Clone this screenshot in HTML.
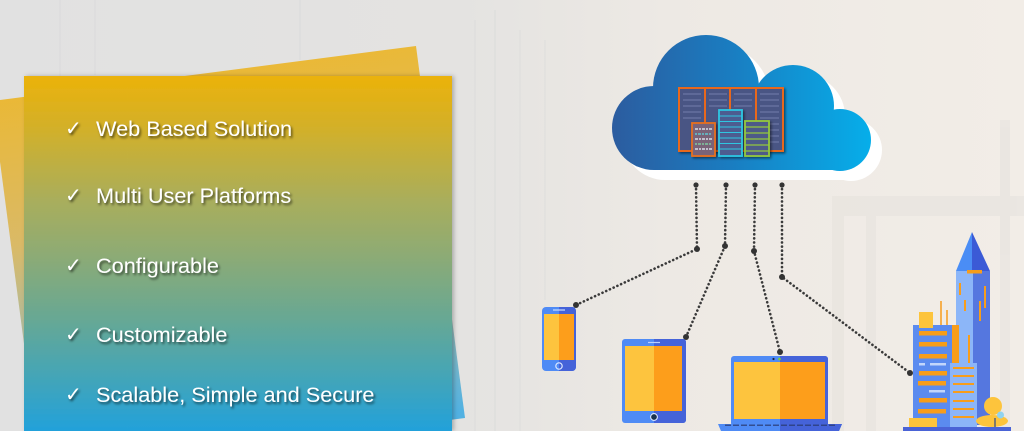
<!DOCTYPE html>
<html><head><meta charset="utf-8"><style>
html,body{margin:0;padding:0;width:1024px;height:431px;overflow:hidden;background:#e8e6e3;}
svg{display:block;position:absolute;left:0;top:0}
</style></head><body>
<svg width="1024" height="431" viewBox="0 0 1024 431" xmlns="http://www.w3.org/2000/svg">
<defs>
<linearGradient id="bg" x1="0" y1="0" x2="1" y2="0">
<stop offset="0" stop-color="#e1e1e1"/><stop offset="0.45" stop-color="#e4e3e1"/><stop offset="0.65" stop-color="#ede9e4"/><stop offset="1" stop-color="#f2ede7"/>
</linearGradient>
<linearGradient id="front" x1="0" y1="76" x2="0" y2="431" gradientUnits="userSpaceOnUse">
<stop offset="0" stop-color="#ebb20a"/><stop offset="0.15" stop-color="#d2b02a"/><stop offset="0.35" stop-color="#a9ae5c"/><stop offset="0.5" stop-color="#8eab74"/><stop offset="0.68" stop-color="#68a893"/><stop offset="0.85" stop-color="#43a5b8"/><stop offset="1" stop-color="#22a1da"/>
</linearGradient>
<linearGradient id="back" x1="200" y1="70" x2="250" y2="440" gradientUnits="userSpaceOnUse">
<stop offset="0" stop-color="#ebb527"/><stop offset="0.4" stop-color="#d9b65c"/><stop offset="0.7" stop-color="#9eb8a8"/><stop offset="1" stop-color="#45ade2"/>
</linearGradient>
<linearGradient id="cloud" x1="612" y1="0" x2="871" y2="0" gradientUnits="userSpaceOnUse">
<stop offset="0" stop-color="#2c5c9f"/><stop offset="0.45" stop-color="#1a7cc0"/><stop offset="1" stop-color="#06aeea"/>
</linearGradient>
<filter id="ts" x="-10%" y="-30%" width="120%" height="160%">
<feDropShadow dx="1.5" dy="2" stdDeviation="1.4" flood-color="#000" flood-opacity="0.6"/>
</filter>
<filter id="ps" x="-10%" y="-10%" width="120%" height="120%">
<feDropShadow dx="2" dy="0" stdDeviation="2" flood-color="#000" flood-opacity="0.25"/>
</filter>
<filter id="ss" x="-20%" y="-20%" width="140%" height="140%">
<feDropShadow dx="1.5" dy="1.5" stdDeviation="1.2" flood-color="#000" flood-opacity="0.5"/>
</filter>
<g id="cloudshape">
<circle cx="654" cy="128" r="42"/>
<circle cx="706" cy="88" r="53"/>
<circle cx="793" cy="106" r="41"/>
<circle cx="840" cy="140" r="31"/>
<rect x="654" y="110" width="186" height="60"/>
</g>
</defs>

<!-- background -->
<rect width="1024" height="431" fill="url(#bg)"/>
<g opacity="0.15" stroke="#c8ccd2" stroke-width="2">
<line x1="60" y1="0" x2="60" y2="80"/><line x1="95" y1="0" x2="95" y2="75"/><line x1="300" y1="0" x2="300" y2="60"/>
<line x1="475" y1="20" x2="475" y2="431"/><line x1="495" y1="10" x2="495" y2="431"/><line x1="520" y1="30" x2="520" y2="431"/><line x1="545" y1="40" x2="545" y2="300"/>
</g>
<g fill="#e8e4df" opacity="0.7">
<rect x="832" y="196" width="192" height="20"/>
<rect x="832" y="216" width="12" height="215"/>
<rect x="866" y="216" width="10" height="215"/>
<rect x="1000" y="120" width="10" height="311"/>
</g>

<!-- back panel -->
<polygon points="-8,101 416,46 465,418 365,431 35.5,431" fill="url(#back)" opacity="0.92"/>
<!-- front panel -->
<rect x="24" y="76" width="428" height="355" fill="url(#front)" filter="url(#ps)"/>

<!-- text -->
<g font-family="'Liberation Sans','DejaVu Sans',sans-serif" fill="#ffffff" filter="url(#ts)">
<g font-family="'DejaVu Sans',sans-serif" font-size="20" font-weight="bold">
<text x="65" y="135">✓</text>
<text x="65" y="202">✓</text>
<text x="65" y="272">✓</text>
<text x="65" y="341">✓</text>
<text x="65" y="401">✓</text>
</g>
<g font-size="21.7">
<text x="96" y="136">Web Based Solution</text>
<text x="96" y="203">Multi User Platforms</text>
<text x="96" y="273">Configurable</text>
<text x="96" y="342">Customizable</text>
<text x="96" y="402">Scalable, Simple and Secure</text>
</g>
</g>

<!-- cloud -->
<use href="#cloudshape" fill="#ffffff" transform="translate(11,10)"/>
<use href="#cloudshape" fill="url(#cloud)"/>

<!-- servers -->
<g filter="url(#ss)">
<rect x="679" y="88" width="104" height="63" fill="#4a5484" stroke="#e8681f" stroke-width="2"/>
<g stroke="#e8681f" stroke-width="2"><line x1="705" y1="88" x2="705" y2="151"/><line x1="730" y1="88" x2="730" y2="151"/><line x1="756" y1="88" x2="756" y2="151"/></g>
<g stroke="#6b76a4" stroke-width="1.2">
<line x1="683" y1="94" x2="701" y2="94"/><line x1="683" y1="100" x2="701" y2="100"/><line x1="683" y1="106" x2="701" y2="106"/><line x1="683" y1="112" x2="701" y2="112"/><line x1="683" y1="118" x2="701" y2="118"/>
<line x1="709" y1="94" x2="727" y2="94"/><line x1="709" y1="100" x2="727" y2="100"/><line x1="709" y1="106" x2="727" y2="106"/>
<line x1="734" y1="94" x2="752" y2="94"/><line x1="734" y1="100" x2="752" y2="100"/><line x1="734" y1="106" x2="752" y2="106"/>
<line x1="760" y1="94" x2="779" y2="94"/><line x1="760" y1="100" x2="779" y2="100"/><line x1="760" y1="106" x2="779" y2="106"/><line x1="760" y1="112" x2="779" y2="112"/><line x1="760" y1="118" x2="779" y2="118"/><line x1="760" y1="124" x2="779" y2="124"/><line x1="760" y1="130" x2="779" y2="130"/><line x1="760" y1="136" x2="779" y2="136"/><line x1="760" y1="142" x2="779" y2="142"/>
</g>
</g>
<g filter="url(#ss)">
<rect x="692" y="123" width="23" height="33" fill="#7a6478" stroke="#e8701f" stroke-width="1.8"/>
<g stroke-width="1.6">
<line x1="695" y1="129" x2="712" y2="129" stroke="#d8dde8" stroke-dasharray="3 1 2 1"/>
<line x1="695" y1="134" x2="712" y2="134" stroke="#5ec6d0" stroke-dasharray="2 1 3 1"/>
<line x1="695" y1="139" x2="712" y2="139" stroke="#d8dde8" stroke-dasharray="3 1 2 1"/>
<line x1="695" y1="144" x2="712" y2="144" stroke="#7ec9a0" stroke-dasharray="2 1 3 1"/>
<line x1="695" y1="149" x2="712" y2="149" stroke="#d8dde8" stroke-dasharray="3 1 2 1"/>
</g>
<rect x="719" y="110" width="23" height="46" fill="#4e5c90" stroke="#2ec6e2" stroke-width="1.8"/>
<g stroke="#2ec6e2" stroke-width="1"><line x1="719" y1="116" x2="742" y2="116"/><line x1="719" y1="121.5" x2="742" y2="121.5"/><line x1="719" y1="127" x2="742" y2="127"/><line x1="719" y1="132.5" x2="742" y2="132.5"/><line x1="719" y1="138" x2="742" y2="138"/><line x1="719" y1="143.5" x2="742" y2="143.5"/><line x1="719" y1="149" x2="742" y2="149"/></g>
<rect x="745" y="121" width="24" height="35" fill="#4e5a88" stroke="#93c83e" stroke-width="1.8"/>
<g stroke="#93c83e" stroke-width="1.2"><line x1="745" y1="127" x2="769" y2="127"/><line x1="745" y1="133" x2="769" y2="133"/><line x1="745" y1="139" x2="769" y2="139"/><line x1="745" y1="145" x2="769" y2="145"/><line x1="745" y1="151" x2="769" y2="151"/></g>
</g>

<!-- connectors -->
<g fill="none" stroke="#3a3a3a" stroke-width="2.6" stroke-linecap="round" stroke-dasharray="0.1 4">
<polyline points="696,185 697,249 576,305"/>
<polyline points="726,185 725,246 686,337"/>
<polyline points="755,185 754,251 780,352"/>
<polyline points="782,185 782,277 910,373"/>
</g>
<g fill="#333">
<circle cx="696" cy="185" r="2.6"/><circle cx="726" cy="185" r="2.6"/><circle cx="755" cy="185" r="2.6"/><circle cx="782" cy="185" r="2.6"/>
<circle cx="697" cy="249" r="3"/><circle cx="725" cy="246" r="3"/><circle cx="754" cy="251" r="3"/><circle cx="782" cy="277" r="3"/>
<circle cx="576" cy="305" r="3"/><circle cx="686" cy="337" r="3"/><circle cx="780" cy="352" r="3"/><circle cx="910" cy="373" r="3"/>
</g>

<!-- phone -->
<rect x="542" y="307" width="34" height="64" rx="4" fill="#4f8bf5"/>
<path d="M559 307 H572 A4 4 0 0 1 576 311 V367 A4 4 0 0 1 572 371 H559 Z" fill="#4563d9"/>
<rect x="544" y="314" width="15" height="46" fill="#fdc43e"/>
<rect x="559" y="314" width="15" height="46" fill="#fd9e1b"/>
<line x1="553" y1="310" x2="565" y2="310" stroke="#c9dcff" stroke-width="1.2"/>
<circle cx="559" cy="366" r="3.2" fill="none" stroke="#dce8ff" stroke-width="1.2"/>

<!-- tablet -->
<rect x="622" y="339" width="64" height="84" rx="3" fill="#4f8bf5"/>
<path d="M654 339 H683 A3 3 0 0 1 686 342 V420 A3 3 0 0 1 683 423 H654 Z" fill="#4563d9"/>
<rect x="625" y="346" width="29" height="65" fill="#fdc43e"/>
<rect x="654" y="346" width="28" height="65" fill="#fd9e1b"/>
<line x1="648" y1="342.5" x2="660" y2="342.5" stroke="#b9d0ff" stroke-width="1.2"/>
<circle cx="654" cy="417" r="3.4" fill="#17324f" stroke="#dce8ff" stroke-width="1.1"/>

<!-- laptop -->
<rect x="731" y="356" width="97" height="70" rx="3" fill="#4f8bf5"/>
<path d="M780 356 H825 A3 3 0 0 1 828 359 V426 H780 Z" fill="#4563d9"/>
<rect x="734" y="362" width="46" height="57" fill="#fdc43e"/>
<rect x="780" y="362" width="45" height="57" fill="#fd9e1b"/>
<circle cx="773.5" cy="359" r="1.1" fill="#223"/><circle cx="779.5" cy="359" r="1.3" fill="#7bd12e"/>
<polygon points="718,424 842,424 839,431 721,431" fill="#4f8bf5"/>
<polygon points="780,424 842,424 839,431 780,431" fill="#4563d9"/>
<line x1="725" y1="425.2" x2="835" y2="425.2" stroke="#2a3a70" stroke-width="1.2" stroke-dasharray="6 2"/>

<!-- building -->
<rect x="956" y="271" width="17" height="154" fill="#8cb6f8"/>
<rect x="973" y="271" width="17" height="154" fill="#5577df"/>
<polygon points="972,232 956,271 972,271" fill="#4a8df5"/>
<polygon points="972,232 990,271 972,271" fill="#3b5ad6"/>
<g fill="#f79d1b">
<rect x="967" y="270" width="15" height="3.5"/>
<rect x="959" y="283" width="2" height="12"/><rect x="964" y="300" width="2" height="11"/>
<rect x="979" y="301" width="2" height="20"/><rect x="984" y="286" width="2" height="22"/>
<rect x="968" y="335" width="2" height="30"/>
</g>
<rect x="913" y="325" width="39" height="102" fill="#5b8bef"/>
<rect x="952" y="325" width="7" height="38" fill="#f79d1b"/>
<rect x="919" y="312" width="14" height="16" fill="#fdc43c"/>
<line x1="941" y1="301" x2="941" y2="325" stroke="#f79d1b" stroke-width="1.5"/>
<line x1="947" y1="310" x2="947" y2="325" stroke="#f79d1b" stroke-width="1.5"/>
<g fill="#f79d1b">
<rect x="919" y="331" width="28" height="4.5"/><rect x="919" y="342" width="28" height="4.5"/><rect x="919" y="354" width="28" height="4.5"/>
<rect x="919" y="371" width="28" height="4.5"/><rect x="918" y="381" width="28" height="4.5"/><rect x="919" y="398" width="28" height="4.5"/><rect x="918" y="409" width="28" height="4.5"/>
</g>
<g fill="#c2d6fb"><rect x="919" y="363" width="6" height="2.5"/><rect x="930" y="363" width="16" height="2.5"/><rect x="929" y="390" width="16" height="2.5"/></g>
<rect x="950" y="363" width="27" height="64" fill="#8cb5f8"/>
<g fill="#f79d1b">
<rect x="953" y="367" width="21" height="2"/><rect x="953" y="375" width="21" height="2"/><rect x="953" y="383" width="21" height="2"/><rect x="953" y="391" width="21" height="2"/><rect x="953" y="400" width="21" height="2"/><rect x="953" y="408" width="21" height="2"/><rect x="953" y="416" width="21" height="2"/>
</g>
<rect x="909" y="418" width="28" height="9" fill="#fdc43c"/>
<ellipse cx="992" cy="421" rx="16" ry="6" fill="#fdc43c"/>
<circle cx="993" cy="406" r="9" fill="#fdc43c"/>
<circle cx="1000.5" cy="415" r="3.5" fill="#8fd3f0"/>
<line x1="995" y1="418" x2="995" y2="427" stroke="#2c4a8a" stroke-width="1.2"/>
<rect x="903" y="427" width="108" height="4" fill="#4a63d6"/>
</svg>
</body></html>
